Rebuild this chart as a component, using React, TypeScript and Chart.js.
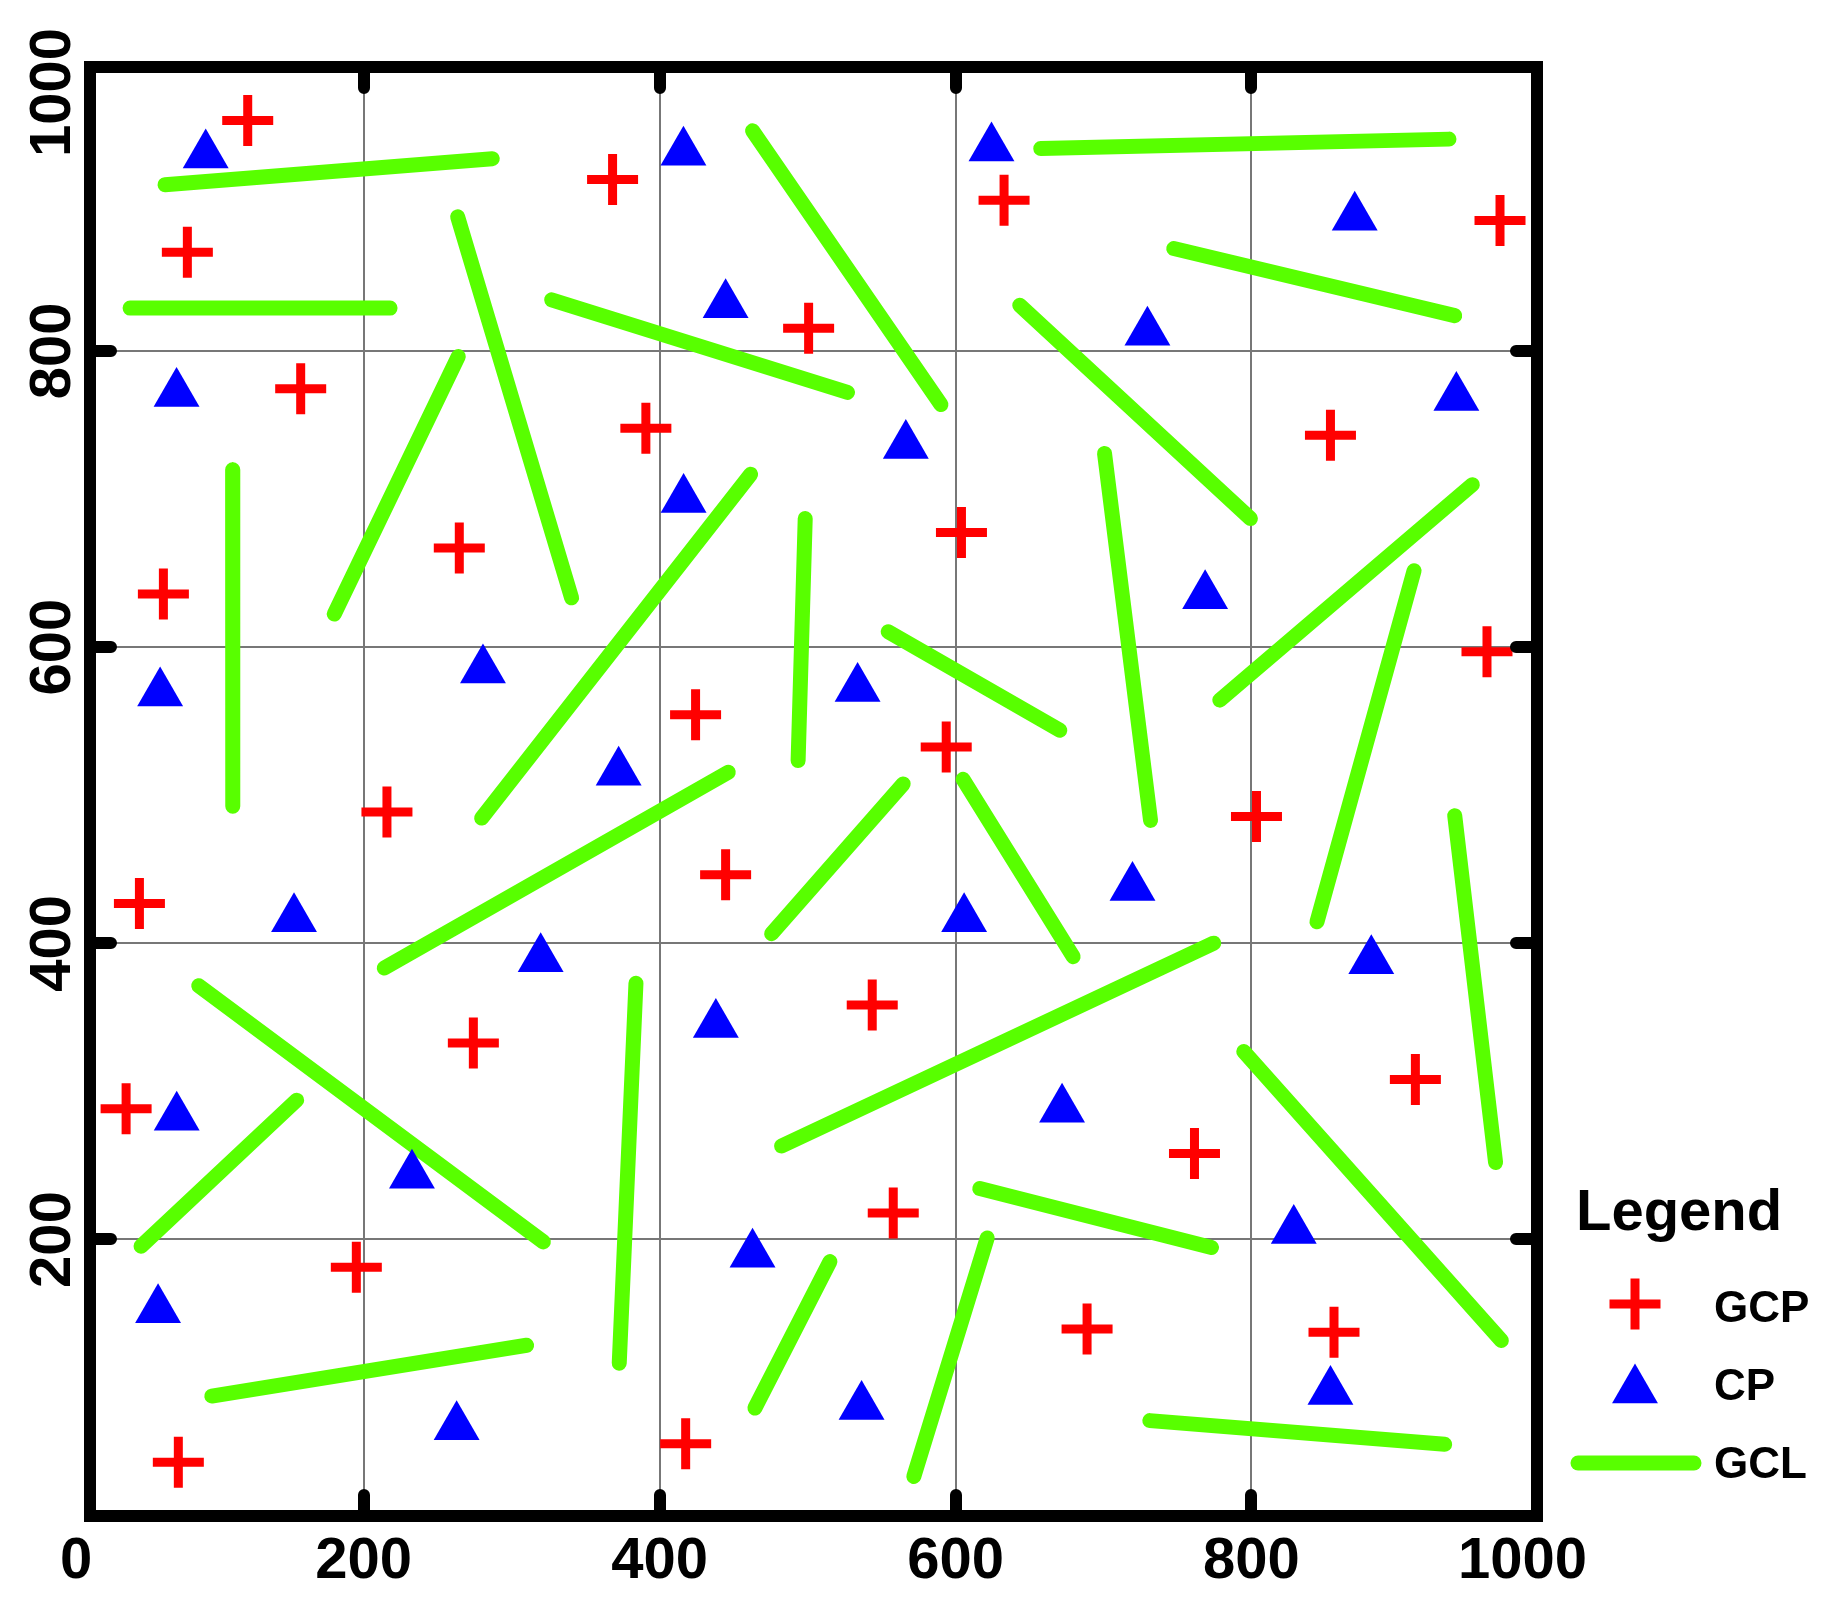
import React, { useEffect, useRef } from 'react';
import { Chart, registerables } from 'chart.js';

Chart.register(...registerables);

// ---- Data ----
const gcpPoints: [number, number][] = [
  [121.6, 955.6], [80.8, 866.6], [157.4, 774.5], [64.6, 635.9], [264.6, 667.0],
  [215.7, 488.7], [48.4, 426.9], [39.4, 288.3], [195.0, 181.2], [74.7, 49.6],
  [274.1, 332.6], [368.2, 915.7], [390.7, 747.8], [424.3, 554.4], [444.6, 446.3],
  [500.7, 815.3], [632.8, 901.8], [604.0, 677.4], [593.7, 532.5], [543.7, 358.4],
  [557.9, 217.9], [417.6, 62.1], [688.9, 139.5], [761.5, 258.0], [803.4, 485.6],
  [853.4, 743.1], [968.0, 888.0], [959.2, 596.9], [910.8, 308.0], [855.8, 137.3],
];

const cpPoints: [number, number][] = [
  [93.2, 932.3], [73.5, 771.2], [62.4, 569.0], [152.9, 416.6], [73.6, 282.5],
  [61.0, 152.5], [262.8, 73.5], [232.6, 243.3], [319.6, 389.5], [280.6, 584.6],
  [372.3, 515.5], [416.1, 934.2], [444.6, 831.1], [416.2, 699.7], [438.0, 345.2],
  [462.8, 190.1], [536.5, 87.2], [533.8, 572.0], [566.4, 736.1], [624.3, 937.0],
  [605.8, 416.6], [672.0, 287.9], [729.7, 812.6], [768.7, 634.6], [719.6, 437.7],
  [828.6, 206.0], [853.4, 97.4], [869.8, 890.2], [938.5, 768.5], [881.0, 388.3],
];

// each segment: [x1, y1, x2, y2]
const gclSegments: [number, number, number, number][] = [
  [65.7, 912.2, 286.9, 929.8],
  [42.1, 828.9, 217.8, 828.9],
  [263.5, 890.5, 340.5, 633.3],
  [180.1, 622.3, 263.9, 796.2],
  [111.4, 719.8, 111.5, 492.6],
  [327.0, 834.5, 527.0, 772.0],
  [462.8, 948.6, 590.1, 763.8],
  [279.7, 484.6, 461.5, 716.7],
  [213.9, 383.3, 446.4, 515.5],
  [498.4, 686.8, 493.6, 523.4],
  [554.5, 610.4, 670.5, 543.8],
  [475.7, 406.5, 564.6, 507.6],
  [605.1, 510.7, 679.5, 391.0],
  [643.4, 830.8, 799.3, 686.8],
  [657.6, 936.7, 933.5, 943.0],
  [747.5, 869.1, 937.4, 823.8],
  [700.7, 730.8, 731.8, 483.0],
  [778.6, 564.2, 949.3, 709.7],
  [909.9, 651.6, 844.3, 414.5],
  [937.4, 486.2, 965.0, 252.0],
  [88.5, 371.4, 321.4, 198.4],
  [49.5, 195.5, 154.7, 294.1],
  [97.3, 94.3, 310.1, 128.6],
  [384.0, 373.0, 372.7, 116.5],
  [482.4, 263.1, 774.5, 400.1],
  [515.1, 185.1, 464.4, 86.2],
  [621.4, 201.0, 571.8, 40.0],
  [616.4, 234.4, 773.0, 194.6],
  [731.3, 77.7, 930.6, 61.7],
  [794.8, 326.9, 968.9, 131.8],
];

const gridValues = [200, 400, 600, 800];
const xTickValues = [0, 200, 400, 600, 800, 1000];
const xTickLabels = ['0', '200', '400', '600', '800', '1000'];
const yTickValues = [200, 400, 600, 800, 1000];
const yTickLabels = ['200', '400', '600', '800', '1000'];
const seriesNames = ['GCP', 'CP', 'GCL'];
const legendTitle = 'Legend';

const RED = '#FF0000';
const BLUE = '#0000FF';
const GREEN = '#58FF00';
const FONT = "'Liberation Sans', Arial, sans-serif";

const framePlugin = {
  id: 'framePlugin',
  beforeDatasetsDraw(chart: any) {
    const { ctx, chartArea: a, scales } = chart;
    const xs = scales.x;
    const ys = scales.y;
    ctx.save();
    ctx.strokeStyle = '#777777';
    ctx.lineWidth = 2;
    ctx.beginPath();
    for (const v of gridValues) {
      const px = Math.round(xs.getPixelForValue(v));
      ctx.moveTo(px, a.top);
      ctx.lineTo(px, a.bottom);
      const py = Math.round(ys.getPixelForValue(v));
      ctx.moveTo(a.left, py);
      ctx.lineTo(a.right, py);
    }
    ctx.stroke();
    ctx.restore();
  },
  afterDatasetsDraw(chart: any) {
    const { ctx, chartArea: a, scales } = chart;
    const xs = scales.x;
    const ys = scales.y;
    ctx.save();

    // frame
    ctx.strokeStyle = '#000';
    ctx.lineWidth = 12;
    ctx.lineJoin = 'miter';
    ctx.strokeRect(a.left, a.top, a.right - a.left, a.bottom - a.top);

    // inner tick marks on all four sides
    const tl = 21;
    ctx.lineCap = 'round';
    ctx.beginPath();
    for (const v of gridValues) {
      const px = Math.round(xs.getPixelForValue(v));
      ctx.moveTo(px, a.top);
      ctx.lineTo(px, a.top + tl);
      ctx.moveTo(px, a.bottom);
      ctx.lineTo(px, a.bottom - tl);
      const py = Math.round(ys.getPixelForValue(v));
      ctx.moveTo(a.left, py);
      ctx.lineTo(a.left + tl, py);
      ctx.moveTo(a.right, py);
      ctx.lineTo(a.right - tl, py);
    }
    ctx.stroke();

    // tick labels
    ctx.fillStyle = '#000';
    ctx.font = `bold 58px ${FONT}`;
    ctx.textBaseline = 'alphabetic';
    ctx.textAlign = 'center';
    const xBase = a.bottom + 62;
    xTickValues.forEach((v, i) => {
      const t = xTickLabels[i];
      const hw = ctx.measureText(t).width / 2;
      let cx = xs.getPixelForValue(v);
      cx = Math.max(cx, a.left - 30 + hw);
      cx = Math.min(cx, a.right + 50 - hw);
      ctx.fillText(t, cx, xBase);
    });
    const yBase = a.left - 20;
    yTickValues.forEach((v, i) => {
      const t = yTickLabels[i];
      const hw = ctx.measureText(t).width / 2;
      let cy = ys.getPixelForValue(v);
      cy = Math.max(cy, a.top - 39 + hw);
      ctx.save();
      ctx.translate(yBase, cy);
      ctx.rotate(-Math.PI / 2);
      ctx.fillText(t, 0, 0);
      ctx.restore();
    });

    // legend
    const lx = a.right + 98; // symbol centre
    const tx = a.right + 177; // text start
    ctx.textAlign = 'left';
    ctx.font = `bold 58px ${FONT}`;
    ctx.fillText(legendTitle, a.right + 39, a.bottom - 286);

    ctx.font = `bold 44px ${FONT}`;
    const rows = [a.bottom - 194, a.bottom - 116, a.bottom - 38];
    // GCP cross
    const c1 = rows[0] - 18;
    ctx.strokeStyle = RED;
    ctx.lineWidth = 9;
    ctx.lineCap = 'butt';
    ctx.beginPath();
    ctx.moveTo(lx - 25.5, c1);
    ctx.lineTo(lx + 25.5, c1);
    ctx.moveTo(lx, c1 - 25.5);
    ctx.lineTo(lx, c1 + 25.5);
    ctx.stroke();
    ctx.fillText(seriesNames[0], tx, rows[0]);
    // CP triangle
    const r = 26.5;
    const c2 = rows[1] - 10;
    ctx.fillStyle = BLUE;
    ctx.beginPath();
    ctx.moveTo(lx, c2 - r);
    ctx.lineTo(lx + r * Math.sin((2 * Math.PI) / 3), c2 + r / 2);
    ctx.lineTo(lx - r * Math.sin((2 * Math.PI) / 3), c2 + r / 2);
    ctx.closePath();
    ctx.fill();
    ctx.fillStyle = '#000';
    ctx.fillText(seriesNames[1], tx, rows[1]);
    // GCL line
    const c3 = rows[2] - 15;
    ctx.strokeStyle = GREEN;
    ctx.lineWidth = 15;
    ctx.lineCap = 'round';
    ctx.beginPath();
    ctx.moveTo(lx - 57, c3);
    ctx.lineTo(lx + 59, c3);
    ctx.stroke();
    ctx.fillText(seriesNames[2], tx, rows[2]);

    ctx.restore();
  },
};

export default function App() {
  const ref = useRef<HTMLCanvasElement | null>(null);

  useEffect(() => {
    if (!ref.current) return;
    const gclData: any[] = [];
    gclSegments.forEach(([x1, y1, x2, y2]) => {
      gclData.push({ x: x1, y: y1 });
      gclData.push({ x: x2, y: y2 });
      gclData.push({ x: x2, y: null });
    });

    const chart = new Chart(ref.current, {
      type: 'scatter',
      data: {
        datasets: [
          {
            label: seriesNames[0],
            data: gcpPoints.map(([x, y]) => ({ x, y })),
            pointStyle: 'cross',
            pointRadius: 25.5,
            pointBorderWidth: 9,
            borderColor: RED,
            backgroundColor: RED,
            clip: false,
          } as any,
          {
            label: seriesNames[1],
            data: cpPoints.map(([x, y]) => ({ x, y })),
            pointStyle: 'triangle',
            pointRadius: 26.5,
            pointBorderWidth: 0,
            borderColor: BLUE,
            backgroundColor: BLUE,
            clip: false,
          } as any,
          {
            label: seriesNames[2],
            data: gclData,
            showLine: true,
            spanGaps: false,
            pointRadius: 0,
            borderColor: GREEN,
            backgroundColor: GREEN,
            borderWidth: 15,
            borderCapStyle: 'round',
            borderJoinStyle: 'round',
            clip: false,
          } as any,
        ],
      },
      options: {
        responsive: false,
        devicePixelRatio: 1,
        animation: false,
        events: [],
        layout: { padding: { left: 90, top: 67, right: 287, bottom: 82 } },
        plugins: {
          legend: { display: false },
          tooltip: { enabled: false },
          title: { display: false },
        },
        scales: {
          x: { type: 'linear', min: 15, max: 993, display: false },
          y: { type: 'linear', min: 13.3, max: 991.7, display: false },
        },
      },
      plugins: [framePlugin],
    });
    return () => chart.destroy();
  }, []);

  return (
    <div style={{ position: 'fixed', left: 0, top: 0, width: 1824, height: 1598, background: '#fff' }}>
      <canvas ref={ref} width={1824} height={1598} style={{ display: 'block' }} />
    </div>
  );
}
